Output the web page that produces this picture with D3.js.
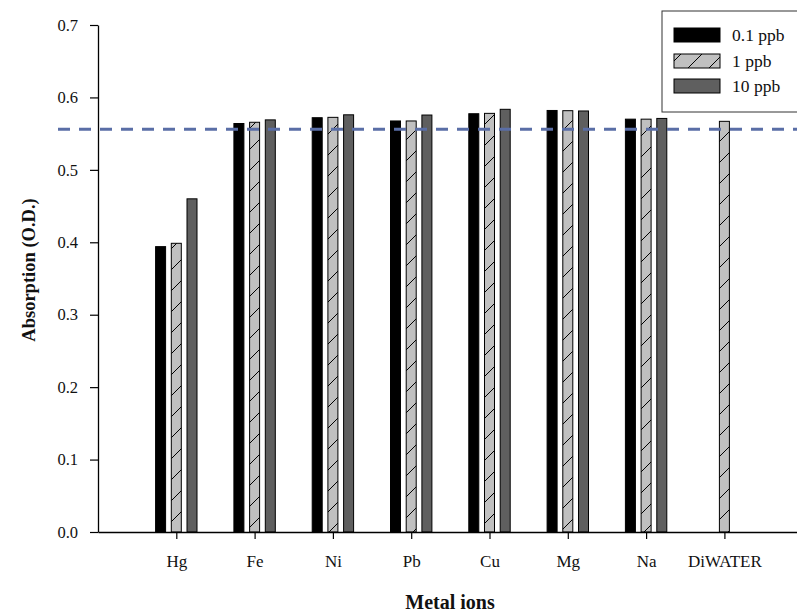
<!DOCTYPE html>
<html>
<head>
<meta charset="utf-8">
<script src="https://cdn.jsdelivr.net/npm/d3@7"></script>
<style>
  html, body { margin: 0; padding: 0; background: #fff; }
  svg { display: block; }
</style>
</head>
<body>
<svg id="chart" width="797" height="614"></svg>
<script>
// Metal ions tested and their absorbance at three concentrations
const categories = ["Hg", "Fe", "Ni", "Pb", "Cu", "Mg", "Na", "DiWATER"];
const seriesNames = ["0.1 ppb", "1 ppb", "10 ppb"];
const ppb01 = [0.394, 0.564, 0.572, 0.5675, 0.5775, 0.582, 0.570, null];
const ppb1  = [0.3986, 0.5657, 0.5725, 0.5675, 0.578, 0.5817, 0.570, 0.567];
const ppb10 = [0.460, 0.569, 0.576, 0.5757, 0.5836, 0.5813, 0.571, null];
const referenceLevel = 0.556;
const yTicks = [0.0, 0.1, 0.2, 0.3, 0.4, 0.5, 0.6, 0.7];

const series = [ppb01, ppb1, ppb10];
const fills = ["#000000", "url(#hatch)", "#5f5f5f"];

const svg = d3.select("#chart");
const font = "'Liberation Serif', 'Times New Roman', serif";

// hatch pattern for the 1 ppb series
const defs = svg.append("defs");
const pat = defs.append("pattern")
  .attr("id", "hatch")
  .attr("patternUnits", "userSpaceOnUse")
  .attr("width", 21).attr("height", 21);
pat.append("rect").attr("width", 21).attr("height", 21).attr("fill", "#c0c0c0");
pat.append("line")
  .attr("x1", 0).attr("y1", 21).attr("x2", 21).attr("y2", 0)
  .attr("stroke", "#000").attr("stroke-width", 1);

const x = d3.scalePoint().domain(categories).range([98, 802.7]).padding(1);
const y = d3.scaleLinear().domain([0, 0.7]).range([532, 25]);

const barW = 10, pitch = 15.7;

// bars
series.forEach((vals, si) => {
  svg.append("g").selectAll("rect")
    .data(categories.map((c, i) => ({ c, v: vals[i] })).filter(d => d.v != null))
    .join("rect")
    .attr("x", d => x(d.c) + (si - 1) * pitch - barW / 2)
    .attr("y", d => y(d.v))
    .attr("width", barW)
    .attr("height", d => y(0) - y(d.v))
    .attr("fill", fills[si])
    .attr("stroke", "#000")
    .attr("stroke-width", 1);
});

// y axis
const yAxis = svg.append("g")
  .attr("transform", `translate(${x.range()[0]},0)`)
  .call(d3.axisLeft(y).tickValues(yTicks).tickFormat(d3.format(".1f"))
    .tickSizeOuter(0).tickSizeInner(8).tickPadding(12));
yAxis.select(".domain").attr("stroke", "#000").attr("stroke-width", 1.3);
yAxis.selectAll(".tick line").attr("stroke", "#000").attr("stroke-width", 1.2);
yAxis.selectAll("text").attr("font-family", font).attr("font-size", 16.5).attr("fill", "#111");

// x axis
const xAxis = svg.append("g")
  .attr("transform", `translate(0,${y(0)})`)
  .call(d3.axisBottom(x).tickSizeOuter(0).tickSizeInner(7).tickPadding(16));
xAxis.select(".domain").attr("stroke", "#000").attr("stroke-width", 1.3);
xAxis.selectAll(".tick line").attr("stroke", "#000").attr("stroke-width", 1.2);
xAxis.selectAll("text").attr("font-family", font).attr("font-size", 17).attr("fill", "#111");

// reference level
svg.append("line")
  .attr("x1", 58).attr("x2", 797)
  .attr("y1", y(referenceLevel)).attr("y2", y(referenceLevel))
  .attr("stroke", "#5a6ea6").attr("stroke-width", 3)
  .attr("stroke-dasharray", "12,9");

// axis titles
svg.append("text")
  .attr("x", 450).attr("y", 609)
  .attr("text-anchor", "middle")
  .attr("font-family", font).attr("font-weight", "bold").attr("font-size", 20)
  .attr("fill", "#111")
  .text("Metal ions");

svg.append("text")
  .attr("transform", "translate(35,270) rotate(-90)")
  .attr("text-anchor", "middle")
  .attr("font-family", font).attr("font-weight", "bold").attr("font-size", 18.5)
  .attr("fill", "#111")
  .text("Absorption (O.D.)");

// legend
const legend = svg.append("g");
legend.append("rect")
  .attr("x", 662).attr("y", 11).attr("width", 150).attr("height", 101)
  .attr("fill", "#fff").attr("stroke", "#333").attr("stroke-width", 1);
const rowsY = [35, 61, 86];
seriesNames.forEach((name, i) => {
  legend.append("rect")
    .attr("x", 674).attr("y", rowsY[i] - 7).attr("width", 46).attr("height", 14)
    .attr("fill", fills[i]).attr("stroke", "#000").attr("stroke-width", 1);
  legend.append("text")
    .attr("x", 732).attr("y", rowsY[i])
    .attr("dominant-baseline", "central")
    .attr("font-family", font).attr("font-size", 17.5).attr("fill", "#111")
    .text(name);
});
</script>
</body>
</html>
